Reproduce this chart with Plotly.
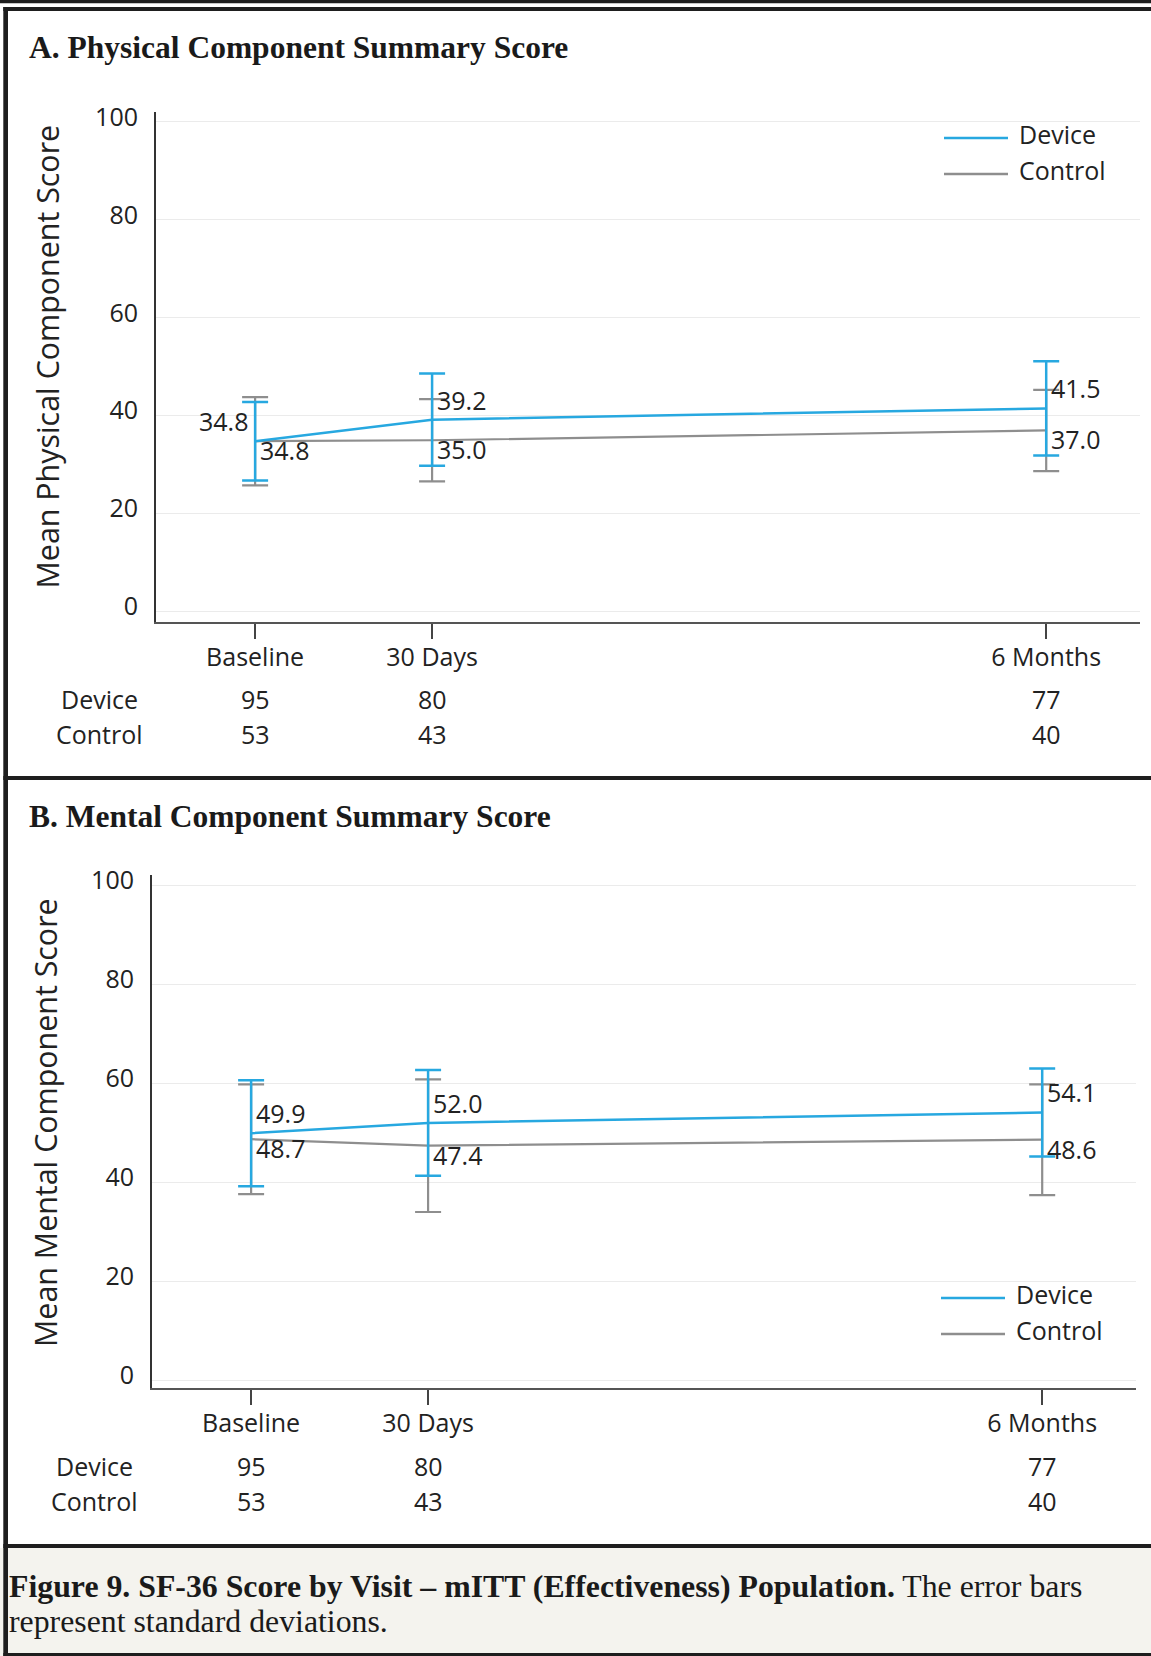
import plotly.graph_objects as go

# ---------------- data ----------------
visits = ["Baseline", "30 Days", "6 Months"]
visit_pos = [0, 1, 4.47]          # horizontal placement of each visit on the axis

pcs_device = [34.8, 39.2, 41.5]
pcs_device_sd = [8.0, 9.4, 9.6]
pcs_control = [34.8, 35.0, 37.0]
pcs_control_sd = [9.0, 8.4, 8.3]

mcs_device = [49.9, 52.0, 54.1]
mcs_device_sd = [10.7, 10.7, 8.9]
mcs_control = [48.7, 47.4, 48.6]
mcs_control_sd = [11.1, 13.4, 11.2]

n_device = [95, 80, 77]
n_control = [53, 43, 40]

y_ticks = [0, 20, 40, 60, 80, 100]

# ---------------- style ----------------
W, H = 1151, 1656
BLUE = "#27a8e0"
GRAY = "#8e8e8e"
TXT = "#222222"
SANS = "Open Sans"
SERIF = "Liberation Serif"
FS = 25


def px(x):
    return x / W


def py(y):
    return 1 - y / H


fig = go.Figure()

panels = [
    dict(xa="x", ya="y", dev=pcs_device, dsd=pcs_device_sd, con=pcs_control, csd=pcs_control_sd),
    dict(xa="x2", ya="y2", dev=mcs_device, dsd=mcs_device_sd, con=mcs_control, csd=mcs_control_sd),
]

for i, p in enumerate(panels):
    fig.add_trace(go.Scatter(
        x=visit_pos, y=p["con"], mode="lines", name="Control",
        line=dict(color=GRAY, width=2.2),
        error_y=dict(type="data", array=p["csd"], color=GRAY, thickness=2.2, width=13),
        xaxis=p["xa"], yaxis=p["ya"], showlegend=False, hoverinfo="skip"))
    fig.add_trace(go.Scatter(
        x=visit_pos, y=p["dev"], mode="lines", name="Device",
        line=dict(color=BLUE, width=2.5),
        error_y=dict(type="data", array=p["dsd"], color=BLUE, thickness=2.5, width=13),
        xaxis=p["xa"], yaxis=p["ya"], showlegend=False, hoverinfo="skip"))

annotations = []
shapes = []

# data value labels
for i, p in enumerate(panels):
    for j in range(len(visit_pos)):
        left_side = (i == 0 and j == 0)
        annotations.append(dict(
            x=visit_pos[j], y=p["dev"][j], xref=p["xa"], yref=p["ya"],
            text=f"{p['dev'][j]:.1f}", showarrow=False,
            xanchor="right" if left_side else "left",
            xshift=-5 if left_side else 3, yshift=20, yanchor="middle",
            font=dict(family=SANS, size=FS, color=TXT)))
        annotations.append(dict(
            x=visit_pos[j], y=p["con"][j], xref=p["xa"], yref=p["ya"],
            text=f"{p['con'][j]:.1f}", showarrow=False,
            xanchor="left", xshift=3, yshift=-9, yanchor="middle",
            font=dict(family=SANS, size=FS, color=TXT)))

# panel geometry (pixels)
geo = [
    dict(title="A. Physical Component Summary Score", title_y=47,
         ytitle="Mean Physical Component Score", ytitle_x=47.5, ytitle_y=357,
         row_x=99, dev_row=699, con_row=734, leg_x0=944, leg_y=138),
    dict(title="B. Mental Component Summary Score", title_y=816,
         ytitle="Mean Mental Component Score", ytitle_x=45.5, ytitle_y=1122.5,
         row_x=95, dev_row=1466, con_row=1500.5, leg_x0=941, leg_y=1298),
]

for i, g in enumerate(geo):
    xa = "x" if i == 0 else "x2"
    annotations.append(dict(
        x=px(27), y=py(g["title_y"]), xref="paper", yref="paper",
        text=f"<b>{g['title']}</b>", showarrow=False, xanchor="left", yanchor="middle",
        font=dict(family=SERIF, size=31.5, color="#1a1a1a")))
    annotations.append(dict(
        x=px(g["ytitle_x"]), y=py(g["ytitle_y"]), xref="paper", yref="paper",
        text=g["ytitle"], showarrow=False, textangle=-90, xanchor="center", yanchor="middle",
        font=dict(family=SANS, size=30.4, color=TXT)))
    # n table
    annotations.append(dict(x=px(g["row_x"]), y=py(g["dev_row"]), xref="paper", yref="paper",
                            text="Device", showarrow=False, xanchor="center", yanchor="middle",
                            font=dict(family=SANS, size=FS, color=TXT)))
    annotations.append(dict(x=px(g["row_x"]), y=py(g["con_row"]), xref="paper", yref="paper",
                            text="Control", showarrow=False, xanchor="center", yanchor="middle",
                            font=dict(family=SANS, size=FS, color=TXT)))
    for j in range(len(visit_pos)):
        annotations.append(dict(x=visit_pos[j], y=py(g["dev_row"]), xref=xa, yref="paper",
                                text=str(n_device[j]), showarrow=False, xanchor="center",
                                yanchor="middle", font=dict(family=SANS, size=FS, color=TXT)))
        annotations.append(dict(x=visit_pos[j], y=py(g["con_row"]), xref=xa, yref="paper",
                                text=str(n_control[j]), showarrow=False, xanchor="center",
                                yanchor="middle", font=dict(family=SANS, size=FS, color=TXT)))
    # legend
    for k, (name, col) in enumerate([("Device", BLUE), ("Control", GRAY)]):
        yy = g["leg_y"] + k * 36
        shapes.append(dict(type="line", xref="paper", yref="paper",
                           x0=px(g["leg_x0"]), x1=px(g["leg_x0"] + 64), y0=py(yy), y1=py(yy),
                           line=dict(color=col, width=2.5)))
        annotations.append(dict(x=px(g["leg_x0"] + 73), y=py(yy - 4), xref="paper", yref="paper",
                                text=name, showarrow=False, xanchor="left", yanchor="middle",
                                font=dict(family=SANS, size=FS, color=TXT)))

# caption
annotations.append(dict(
    x=px(7), y=py(1586), xref="paper", yref="paper", showarrow=False,
    xanchor="left", yanchor="middle", align="left",
    text="<b>Figure 9. SF-36 Score by Visit – mITT (Effectiveness) Population.</b> The error bars",
    font=dict(family=SERIF, size=31.8, color="#1a1a1a")))
annotations.append(dict(
    x=px(7), y=py(1621), xref="paper", yref="paper", showarrow=False,
    xanchor="left", yanchor="middle", align="left",
    text="represent standard deviations.",
    font=dict(family=SERIF, size=31.8, color="#1a1a1a")))

# frame / separators
DARK = "#1e1e1e"
def rect(x0, y0, x1, y1, color=DARK):
    shapes.append(dict(type="rect", xref="paper", yref="paper", layer="below",
                       x0=px(x0), x1=px(x1), y0=py(y1), y1=py(y0),
                       fillcolor=color, line=dict(width=0)))

rect(0, 1548, W, 1656, "#f4f3ee")
rect(0, 0, W, 3.3)
rect(3.3, 7, W, 11)
rect(3.3, 7, 8, H)
rect(3.3, 776, W, 780)
rect(3.3, 1544, W, 1548)
rect(3.3, 1653, W, H)

common_x = dict(range=[-0.56, 5.0], tickvals=visit_pos, ticktext=visits, automargin=False,
                showgrid=False, zeroline=False, showline=True, linecolor="#555555", linewidth=2,
                ticks="outside", ticklen=15, tickwidth=1.5, tickcolor="#444444",
                ticklabelstandoff=-3,
                tickfont=dict(family=SANS, size=FS, color=TXT), fixedrange=True)
common_y = dict(tickvals=y_ticks, showgrid=True, gridcolor="#ebebeb", gridwidth=1, automargin=False,
                zeroline=False, showline=True, linecolor="#333333", linewidth=2,
                ticks="", tickfont=dict(family=SANS, size=FS, color=TXT),
                ticklabelstandoff=11, ticklabelshift=-5, fixedrange=True)

fig.update_layout(
    width=W, height=H, margin=dict(l=0, r=0, t=0, b=0, autoexpand=False),
    paper_bgcolor="white", plot_bgcolor="white", showlegend=False,
    xaxis=dict(common_x, domain=[px(156), px(1140)], anchor="y"),
    yaxis=dict(common_y, range=[-2, 102], domain=[py(621.5), py(112)], anchor="x"),
    xaxis2=dict(common_x, domain=[px(152), px(1136)], anchor="y2"),
    yaxis2=dict(common_y, range=[-1.5, 102], domain=[py(1387.7), py(875.4)], anchor="x2"),
    annotations=annotations, shapes=shapes,
)

post = ("var d=document.getElementById('{plot_id}');"
        "if(d&&d.parentElement){d.parentElement.style.cssText='position:absolute;left:0;top:0;margin:0;padding:0;height:1656px;width:1151px;overflow:hidden;background:white;';}"
        "document.documentElement.style.cssText='margin:0;padding:0;overflow:hidden;height:1656px;';"
        "document.body.style.cssText='margin:0;padding:0;overflow:hidden;height:1656px;position:relative;';")

fig.write_html("out.html", config={"displayModeBar": False}, post_script=post)
